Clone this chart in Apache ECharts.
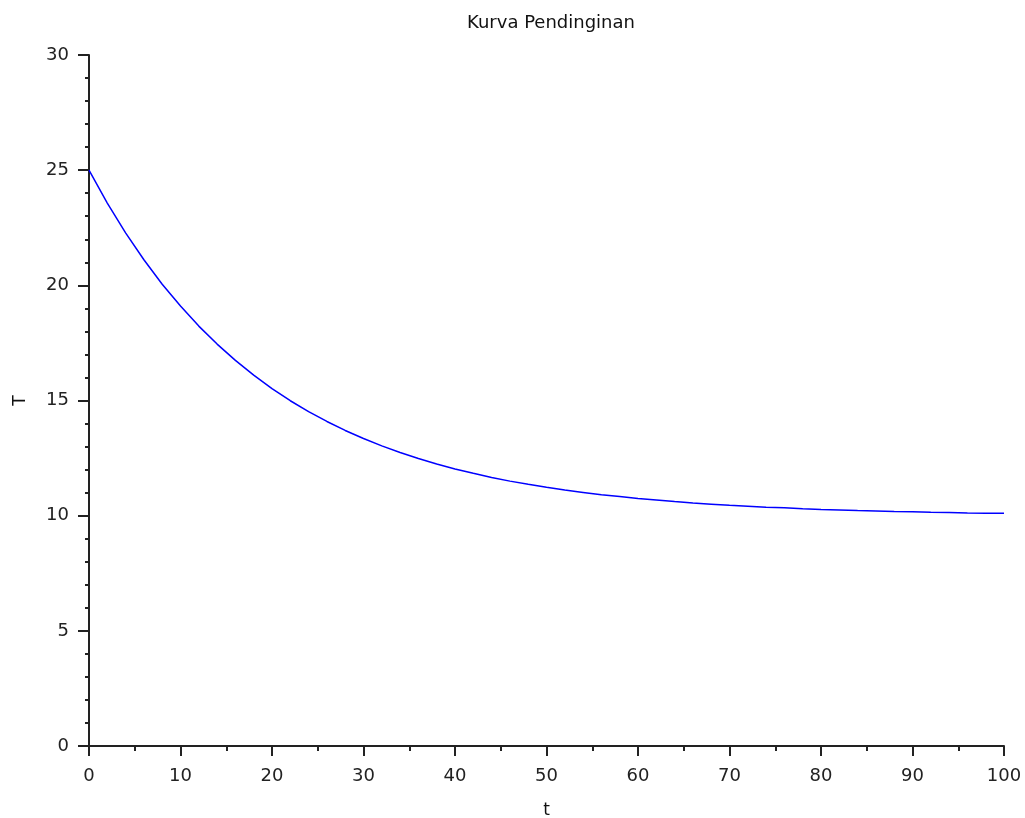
<!DOCTYPE html>
<html>
<head>
<meta charset="utf-8">
<script src="https://cdn.jsdelivr.net/npm/echarts@6/dist/echarts.min.js"></script>
<style>
html,body{margin:0;padding:0;background:#fff;}
#chart{width:1025px;height:818px;}
</style>
</head>
<body>
<div id="chart"></div>
<script>
// t values (x) and temperature values (T)
const timeValues = [0,2,4,6,8,10,12,14,16,18,20,22,24,26,28,30,32,34,36,38,40,42,44,46,48,50,52,54,56,58,60,62,64,66,68,70,72,74,76,78,80,82,84,86,88,90,92,94,96,98,100];
const tempValues = [25.00,23.57,22.28,21.11,20.05,19.10,18.23,17.45,16.74,16.10,15.52,14.99,14.52,14.09,13.70,13.35,13.03,12.74,12.48,12.24,12.03,11.84,11.66,11.50,11.36,11.23,11.11,11.01,10.91,10.83,10.75,10.68,10.61,10.55,10.50,10.45,10.41,10.37,10.34,10.30,10.27,10.25,10.22,10.20,10.18,10.17,10.15,10.14,10.12,10.11,10.10];
const titleText = 'Kurva Pendinginan';
const xName = 't';
const yName = 'T';

const seriesData = timeValues.map((t, i) => [t, tempValues[i]]);
const font = 'DejaVu Sans';
const axisColor = '#222';

const chart = echarts.init(document.getElementById('chart'), null, {renderer: 'canvas'});
chart.setOption({
  animation: false,
  backgroundColor: '#ffffff',
  title: {
    text: titleText,
    left: 546,
    textAlign: 'center',
    top: 9,
    textStyle: {fontFamily: font, fontSize: 18, fontWeight: 'normal', color: '#111'}
  },
  grid: {left: 89, right: 21, top: 55, bottom: 72, containLabel: false, outerBoundsMode: 'none'},
  xAxis: {
    type: 'value',
    min: 0, max: 100, interval: 10,
    name: xName,
    nameLocation: 'middle',
    nameGap: 56,
    nameTextStyle: {fontFamily: font, fontSize: 17, color: '#111'},
    axisLine: {show: true, onZero: false, lineStyle: {color: axisColor, width: 2}},
    axisTick: {show: true, length: 10, lineStyle: {color: axisColor, width: 2}},
    minorTick: {show: true, splitNumber: 2, length: 5, lineStyle: {color: axisColor, width: 2}},
    axisLabel: {margin: 21, fontFamily: font, fontSize: 18, color: '#222'},
    splitLine: {show: false}
  },
  yAxis: {
    type: 'value',
    min: 0, max: 30, interval: 5,
    name: yName,
    nameLocation: 'middle',
    nameGap: 60,
    nameRotate: 90,
    nameTextStyle: {fontFamily: font, fontSize: 17, color: '#111'},
    axisLine: {show: true, onZero: false, lineStyle: {color: axisColor, width: 2}},
    axisTick: {show: true, length: 11, lineStyle: {color: axisColor, width: 2}},
    minorTick: {show: true, splitNumber: 5, length: 4, lineStyle: {color: axisColor, width: 2}},
    axisLabel: {margin: 20, fontFamily: font, fontSize: 18, color: '#222'},
    splitLine: {show: false}
  },
  series: [{
    type: 'line',
    data: seriesData,
    showSymbol: false,
    smooth: false,
    lineStyle: {color: '#0000ff', width: 1.5},
    itemStyle: {color: '#0000ff'}
  }]
});
</script>
</body>
</html>
